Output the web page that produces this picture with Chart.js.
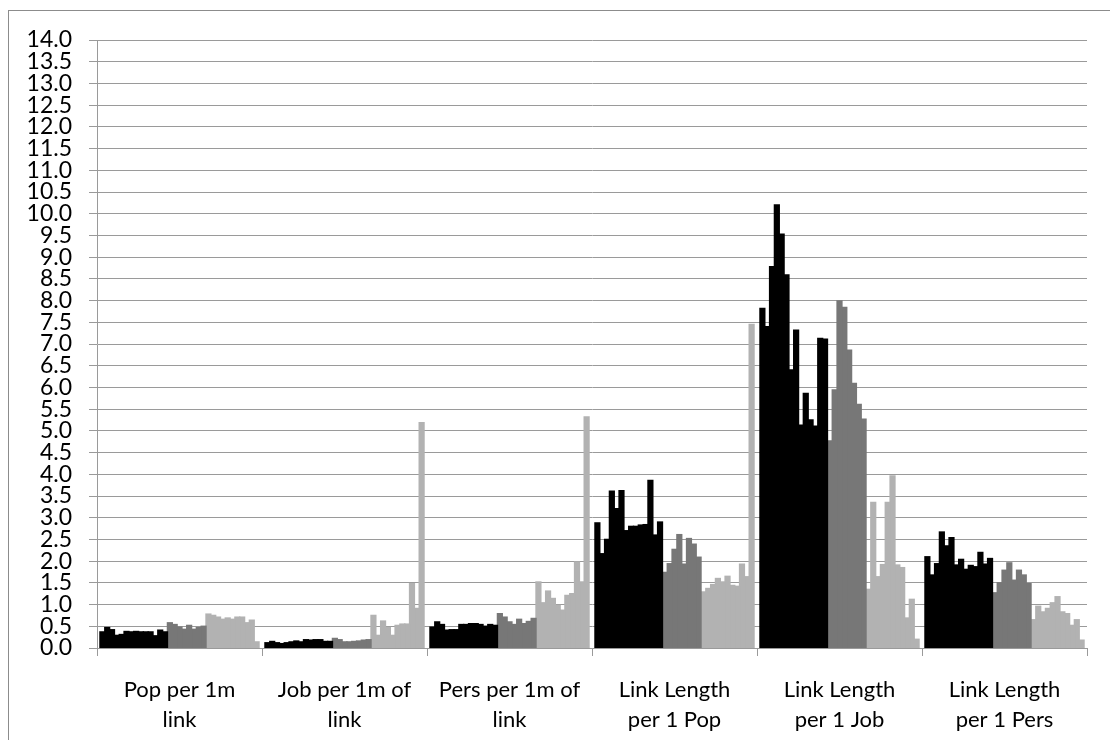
<!DOCTYPE html>
<html>
<head>
<meta charset="utf-8">
<script src="https://cdn.jsdelivr.net/npm/chart.js@4"></script>
<style>
  html, body { margin: 0; padding: 0; background: #fff; }
  #wrap { position: relative; width: 1110px; height: 740px; overflow: hidden; }
  #frame { position: absolute; left: 8px; top: 10px; width: 1200px; height: 800px;
           border-left: 1px solid #8c8c8c; border-top: 1px solid #8c8c8c; }
  canvas { position: absolute; left: 0; top: 0; }
</style>
</head>
<body>
<div id="wrap">
  <div id="frame"></div>
  <canvas id="chart" width="1110" height="740"></canvas>
</div>
<script>
const categories = [
  ['Pop per 1m', 'link'],
  ['Job per 1m of', 'link'],
  ['Pers per 1m of', 'link'],
  ['Link Length', 'per 1 Pop'],
  ['Link Length', 'per 1 Job'],
  ['Link Length', 'per 1 Pers']
];

// bars per category: 14 black, 8 dark grey, 11 light grey
const groupSizes = [14, 8, 11];
const groupColors = ['#000000', '#777777', '#b2b2b2'];

const popPer1m = [
  0.37, 0.47, 0.42, 0.29, 0.31, 0.38, 0.37, 0.38, 0.37, 0.37, 0.37, 0.28, 0.41, 0.37,
  0.58, 0.54, 0.48, 0.43, 0.52, 0.43, 0.47, 0.50,
  0.78, 0.75, 0.71, 0.66, 0.69, 0.66, 0.71, 0.71, 0.58, 0.64, 0.14
];
const jobPer1m = [
  0.12, 0.15, 0.12, 0.10, 0.12, 0.14, 0.16, 0.14, 0.19, 0.18, 0.19, 0.19, 0.15, 0.15,
  0.22, 0.19, 0.14, 0.14, 0.15, 0.16, 0.18, 0.19,
  0.75, 0.29, 0.62, 0.47, 0.29, 0.52, 0.55, 0.55, 1.48, 0.91, 5.19
];
const persPer1m = [
  0.48, 0.60, 0.54, 0.41, 0.42, 0.42, 0.54, 0.54, 0.56, 0.56, 0.54, 0.50, 0.54, 0.52,
  0.79, 0.71, 0.60, 0.54, 0.66, 0.56, 0.61, 0.68,
  1.52, 1.04, 1.31, 1.14, 0.98, 0.87, 1.21, 1.25, 1.98, 1.52, 5.32
];
const lenPerPop = [
  2.88, 2.17, 2.50, 3.61, 3.21, 3.62, 2.70, 2.80, 2.80, 2.83, 2.84, 3.86, 2.60, 2.90,
  1.74, 1.94, 2.27, 2.61, 1.93, 2.52, 2.39, 2.09,
  1.29, 1.37, 1.46, 1.60, 1.52, 1.65, 1.44, 1.42, 1.93, 1.64, 7.45
];
const lenPerJob = [
  7.82, 7.40, 8.78, 10.20, 9.53, 8.59, 6.40, 7.32, 5.13, 5.86, 5.25, 5.11, 7.13, 7.11,
  4.77, 5.94, 7.99, 7.84, 6.86, 6.09, 5.61, 5.27,
  1.35, 3.35, 1.64, 1.92, 3.35, 3.96, 1.91, 1.85, 0.69, 1.12, 0.20
];
const lenPerPers = [
  2.10, 1.68, 1.94, 2.67, 2.35, 2.54, 1.91, 2.04, 1.81, 1.90, 1.87, 2.20, 1.93, 2.06,
  1.27, 1.50, 1.79, 1.96, 1.56, 1.79, 1.68, 1.48,
  0.65, 0.96, 0.83, 0.91, 1.04, 1.18, 0.83, 0.79, 0.52, 0.65, 0.18
];

const rows = [popPer1m, jobPer1m, persPer1m, lenPerPop, lenPerJob, lenPerPers];

const FONT = 'Lato, "Open Sans", sans-serif';
const GRID = '#9a9a9a';

// one dataset per bar slot, coloured by its group
const seriesColors = [];
groupSizes.forEach((n, g) => { for (let i = 0; i < n; i++) seriesColors.push(groupColors[g]); });

const datasets = seriesColors.map((c, i) => ({
  data: rows.map(r => r[i]),
  backgroundColor: c,
  borderWidth: 0,
  inflateAmount: 0.7,
  barPercentage: 1.0,
  categoryPercentage: 0.964
}));

new Chart(document.getElementById('chart'), {
  type: 'bar',
  data: { labels: categories, datasets },
  options: {
    responsive: false,
    animation: false,
    layout: { padding: { top: 40, right: 23, left: 0, bottom: 0 } },
    plugins: { legend: { display: false }, tooltip: { enabled: false } },
    scales: {
      x: {
        grid: { offset: true, drawOnChartArea: false, drawTicks: true, tickLength: 8, color: GRID },
        border: { color: GRID },
        ticks: { color: '#000', font: { family: FONT, size: 22, lineHeight: 1.36 }, padding: 19, maxRotation: 0, autoSkip: false },
        afterFit: s => { s.height = 92; }
      },
      y: {
        min: 0,
        max: 14,
        grid: { color: GRID, tickLength: 8 },
        border: { color: GRID },
        ticks: {
          stepSize: 0.5,
          autoSkip: false,
          color: '#000',
          padding: 17,
          font: { family: FONT, size: 23 },
          callback: v => v.toFixed(1)
        },
        afterFit: s => { s.width = 97; }
      }
    }
  }
});
</script>
</body>
</html>
